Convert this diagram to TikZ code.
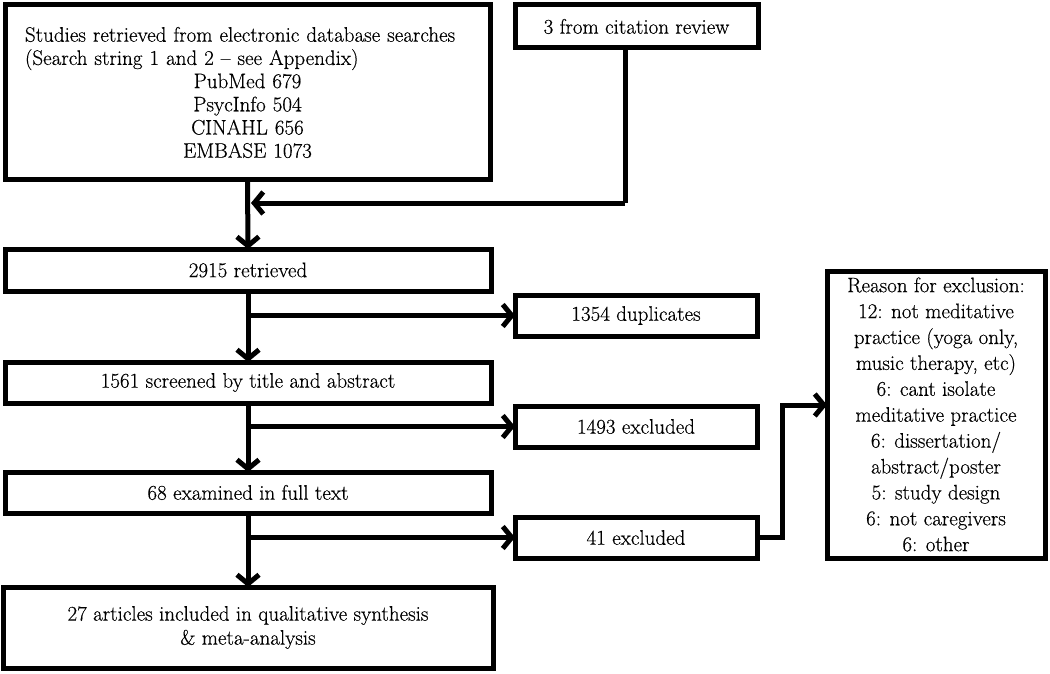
\documentclass[tikz,border=0pt]{standalone}
\usepackage{fontspec}
\setmainfont{Latin Modern Roman}[FakeBold=0.4]
\usetikzlibrary{arrows.meta}
\begin{document}
\begin{tikzpicture}[x=1pt,y=-1pt,
  every node/.style={inner sep=0pt, outer sep=0pt},
  box/.style={draw=black, line width=5pt, fill=white, rectangle, align=center,
    font=\fontsize{21}{24}\selectfont},
  arr/.style={line width=5pt, -{Straight Barb[length=9pt,width=22pt]}},
  conn/.style={line width=5pt}]
\useasboundingbox (0,0) rectangle (1050,674);

\node[box, minimum width=485pt, minimum height=175pt, text width=445pt,
  font=\fontsize{21}{23.2}\selectfont] (A) at (247.5,92.5)
  {\raggedright Studies retrieved from electronic database searches\\
   (Search string 1 and 2 -- see Appendix)\par
   \centering PubMed 679\\ PsycInfo 504\\ CINAHL 656\\ EMBASE 1073\par};
\node[box, minimum width=243pt, minimum height=43pt] (B) at (636.5,26.5) {3 from citation review};

\node[box, minimum width=486pt, minimum height=42pt] (R1) at (248,270) {2915 retrieved};
\node[box, minimum width=242pt, minimum height=41pt] (D1) at (636,315.5) {1354 duplicates};
\node[box, minimum width=486pt, minimum height=41pt] (R2) at (248,382.5) {1561 screened by title and abstract};
\node[box, minimum width=242pt, minimum height=41pt] (D2) at (636,426.5) {1493 excluded};
\node[box, minimum width=486pt, minimum height=41pt] (R3) at (248,492.5) {68 examined in full text};
\node[box, minimum width=242pt, minimum height=41pt] (D3) at (636,537.5) {41 excluded};
\node[box, minimum width=490pt, minimum height=81pt] (R4) at (248,627.5)
  {27 articles included in qualitative synthesis\\ \& meta-analysis};
\node[box, minimum width=218pt, minimum height=287pt, font=\fontsize{21}{25.9}\selectfont] (E) at (936,414.5)
  {Reason for exclusion:\\ 12: not meditative\\ practice (yoga only,\\ music therapy, etc)\\
   6: cant isolate\\ meditative practice\\ 6: dissertation/\\ abstract/poster\\
   5: study design\\ 6: not caregivers\\ 6: other};

% citation connector
\coordinate (c1) at (625,203);
\coordinate (c2) at (251,203);
\draw[conn] (B.south -| c1) -- (c1);
\draw[arr] (c1) -- (c2);

% main flow
\draw[arr] (A.south) -- (R1.north);
\draw[arr] (R1.south) -- (R2.north);
\draw[arr] (R2.south) -- (R3.north);
\draw[arr] (R3.south) -- (R4.north);

% side branches
\draw[arr] (D1.west -| R1.south) -- (D1.west);
\draw[arr] (D2.west -| R2.south) -- (D2.west);
\draw[arr] (D3.west -| R3.south) -- (D3.west);

% to reasons
\coordinate (r1) at (782,405);
\draw[arr] (D3.east) -| (r1) -- (r1 -| E.west);
\end{tikzpicture}
\end{document}
